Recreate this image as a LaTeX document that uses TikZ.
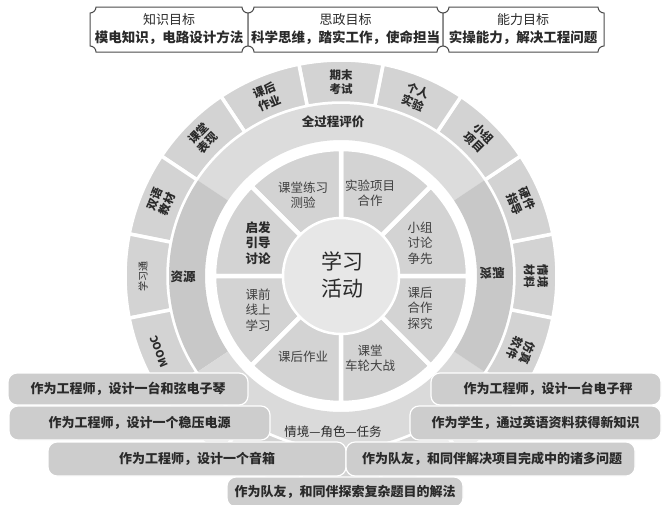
\documentclass[tikz,border=0pt]{standalone}
\usepackage{fontspec}
\usepackage{graphicx}
\setmainfont{Noto Sans CJK SC}
\definecolor{outsegc}{HTML}{D3D3D3}
\definecolor{bandtopc}{HTML}{DCDCDC}
\definecolor{bandsidec}{HTML}{C8C8C8}
\definecolor{bandbotc}{HTML}{DADADA}
\definecolor{insegc}{HTML}{D3D3D3}
\definecolor{corec}{HTML}{E7E7E7}
\definecolor{taskc}{HTML}{CDCDCD}
\definecolor{txtc}{HTML}{2A2A2A}
\newcommand\annsector[5]{%
  \path[#1] (#2:#4) arc[start angle=#2,end angle=#3,radius=#4] -- (#3:#5) arc[start angle=#3,end angle=#2,radius=#5] -- cycle;}
\newcommand\plaque[4]{%
  \draw[plaquestyle] ({#1+6},{-#2}) -- ({#3-6},{-#2}) arc[start angle=180,end angle=270,radius=6]
   -- ({#3},{-#4+6}) arc[start angle=90,end angle=180,radius=6]
   -- ({#1+6},{-#4}) arc[start angle=0,end angle=90,radius=6]
   -- ({#1},{-#2-6}) arc[start angle=270,end angle=360,radius=6] -- cycle;}
\begin{document}
\begin{tikzpicture}[x=1pt,y=1pt,
  outseg/.style={fill=outsegc,draw=white,line width=3.5pt},
  inseg/.style={fill=insegc,draw=white,line width=4.5pt},
  plaquestyle/.style={fill=white,draw=black!70,line width=1pt},
  goaltxt/.style={align=center,text=txtc,inner sep=0pt,font=\fontsize{13}{18}\selectfont},
  outerlbl/.style={align=center,text=txtc,inner sep=0pt,font=\fontsize{11.5}{13.5}\selectfont\bfseries},
  smalllbl/.style={align=center,text=txtc,inner sep=0pt,font=\fontsize{10}{11}\selectfont},
  moocl/.style={align=center,text=txtc,inner sep=0pt,font=\fontsize{10.5}{11}\selectfont\bfseries},
  bandlbl/.style={align=center,text=txtc,inner sep=0pt,font=\fontsize{12.5}{14}\selectfont\bfseries},
  bandlblr/.style={align=center,text=txtc,inner sep=0pt,font=\fontsize{12.5}{14}\selectfont},
  innerlbl/.style={align=center,text=black!75,inner sep=0pt,font=\fontsize{12.5}{15.5}\selectfont},
  innerlblb/.style={align=center,text=txtc,inner sep=0pt,font=\fontsize{12.5}{15.5}\selectfont\bfseries},
  corelbl/.style={align=center,text=txtc,inner sep=0pt,font=\fontsize{21}{27}\selectfont},
  taskbox/.style={fill=taskc,draw=white,line width=1.2pt,rounded corners=9pt,inner sep=0pt,text=txtc,font=\fontsize{13}{15}\selectfont\bfseries}
]
\useasboundingbox (0,0) rectangle (663,-504);
\clip (0,0) rectangle (663,-504);
\fill[white] (0,0) rectangle (663,-504);

% ---------- top goal boxes ----------
\plaque{90}{7}{248}{52}
\plaque{248}{7}{443}{52}
\plaque{443}{7}{604}{52}
\node[goaltxt] (g1) at (169,-29.5) {知识目标\\\textbf{\fontsize{13.5}{18}\selectfont 模电知识，电路设计方法}};
\node[goaltxt] (g2) at (345.5,-29.5) {思政目标\\\textbf{\fontsize{13.5}{18}\selectfont 科学思维，踏实工作，使命担当}};
\node[goaltxt] (g3) at (523,-29.5) {能力目标\\\textbf{\fontsize{13.5}{18}\selectfont 实操能力，解决工程问题}};

% ---------- circle ----------
\begin{scope}[shift={(341,-276)}]
  % outer segments
  \foreach \i in {0,...,15} {
    \pgfmathsetmacro\aa{-11.25+22.5*\i}
    \pgfmathsetmacro\ab{\aa+22.5}
    \annsector{outseg}{\aa}{\ab}{173}{216}
  }
  % band
  \annsector{fill=bandtopc}{33.75}{146.25}{136}{172}
  \annsector{fill=bandsidec}{146.25}{213.75}{136}{172}
  \annsector{fill=bandbotc}{213.75}{326.25}{136}{172}
  \annsector{fill=bandsidec}{-33.75}{33.75}{136}{172}
  % inner segments
  \foreach \i in {0,...,7} {
    \pgfmathsetmacro\aa{45*\i}
    \pgfmathsetmacro\ab{\aa+45}
    \annsector{inseg}{\aa}{\ab}{55}{127}
  }
  % core
  \filldraw[fill=corec,draw=white,line width=2.5pt] (0,0) circle[radius=58];

  % outer labels
  \node[outerlbl,rotate=-90]   (o0)  at (0:195)     {情境\\材料};
  \node[outerlbl,rotate=-67.5] (o1)  at (22.5:195)  {硬件\\指导};
  \node[outerlbl,rotate=-45]   (o2)  at (45:195)    {小组\\项目};
  \node[outerlbl,rotate=-22.5] (o3)  at (67.5:194)  {个人\\实验};
  \node[outerlbl]              (o4)  at (90:194)    {期末\\考试};
  \node[outerlbl,rotate=22.5]  (o5)  at (112.5:194) {课后\\作业};
  \node[outerlbl,rotate=45]    (o6)  at (135:195)   {课堂\\表现};
  \node[outerlbl,rotate=67.5]  (o7)  at (157.5:195) {双语\\教材};
  \node[smalllbl,rotate=90]    (o8)  at (180:198)   {学习通};
  \node[moocl,rotate=112.5]    (o9)  at (202.5:197) {MOOC};
  \node[outerlbl,rotate=-112.5](o15) at (-22.5:195) {仿真\\软件};

  % band labels
  \node[bandlbl]  (b1) at (-8,154)  {全过程评价};
  \node[bandlbl]  (b2) at (-158,-1) {资源};
  \node[bandlbl]  (b3) at (151,3)   {\scalebox{1}[-1]{资源}};
  \node[bandlblr] (b4) at (-8,-156) {情境—角色—任务};

  % inner labels
  \node[innerlbl]  (i1) at (-38,81)  {课堂练习\\测验};
  \node[innerlbl]  (i2) at (29,83)   {实验项目\\合作};
  \node[innerlbl]  (i3) at (79,33)   {小组\\讨论\\争先};
  \node[innerlbl]  (i4) at (79,-32)  {课后\\合作\\探究};
  \node[innerlbl]  (i5) at (29,-82)  {课堂\\车轮大战};
  \node[innerlbl]  (i6) at (-38,-81) {课后作业};
  \node[innerlbl]  (i7) at (-83,-34) {课前\\线上\\学习};
  \node[innerlblb] (i8) at (-83,33)  {启发\\引导\\讨论};
  \node[corelbl]   (c0) at (1,1)     {学习\\活动};
\end{scope}

% ---------- task boxes ----------
\node[taskbox,minimum width=240,minimum height=32] (t1) at (128,-389) {作为工程师，设计一台和弦电子琴};
\node[taskbox,minimum width=230,minimum height=32] (t2) at (546,-389) {\hspace*{4pt}作为工程师，设计一台电子秤};
\node[taskbox,minimum width=261,minimum height=34] (t3) at (139.5,-423) {作为工程师，设计一个稳压电源};
\node[taskbox,minimum width=251,minimum height=34] (t4) at (535.5,-423) {作为学生，通过英语资料获得新知识};
\node[taskbox,minimum width=298,minimum height=34] (t5) at (197,-459) {作为工程师，设计一个音箱};
\node[taskbox,minimum width=289,minimum height=34] (t6) at (490.5,-459) {\hspace*{3pt}作为队友，和同伴解决项目完成中的诸多问题};
\node[taskbox,minimum width=236,minimum height=30] (t7) at (345,-492) {作为队友，和同伴探索复杂题目的解法};
\end{tikzpicture}
\end{document}
